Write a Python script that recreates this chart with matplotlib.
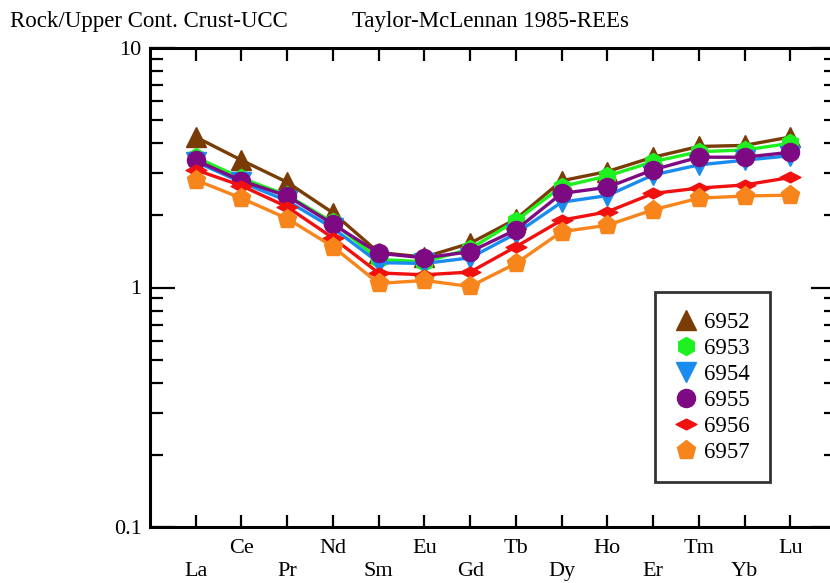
import matplotlib
matplotlib.use("Agg")
import matplotlib.pyplot as plt
from matplotlib.path import Path

# Data: sample / UCC (Taylor & McLennan 1985)
elements = ["La", "Ce", "Pr", "Nd", "Sm", "Eu", "Gd", "Tb", "Dy", "Ho", "Er", "Tm", "Yb", "Lu"]
s6952 = [4.25, 3.40, 2.75, 2.05, 1.40, 1.34, 1.53, 1.93, 2.79, 3.05, 3.50, 3.88, 3.92, 4.25]
s6953 = [3.50, 2.86, 2.43, 1.87, 1.31, 1.28, 1.45, 1.90, 2.64, 2.92, 3.35, 3.69, 3.75, 4.00]
s6954 = [3.35, 2.75, 2.30, 1.77, 1.27, 1.26, 1.33, 1.68, 2.27, 2.42, 2.95, 3.25, 3.40, 3.55]
s6955 = [3.40, 2.79, 2.41, 1.84, 1.39, 1.33, 1.41, 1.74, 2.47, 2.62, 3.10, 3.50, 3.50, 3.67]
s6956 = [3.10, 2.66, 2.17, 1.61, 1.15, 1.13, 1.16, 1.48, 1.91, 2.07, 2.47, 2.60, 2.68, 2.88]
s6957 = [2.81, 2.36, 1.94, 1.48, 1.04, 1.07, 1.01, 1.26, 1.71, 1.82, 2.11, 2.36, 2.41, 2.43]

# wide diamond for 6956
wide_diamond = Path([(-1.45, 0), (0, 0.75), (1.45, 0), (0, -0.75), (-1.45, 0)],
                    [Path.MOVETO, Path.LINETO, Path.LINETO, Path.LINETO, Path.CLOSEPOLY])

series = [
    ("6952", s6952, "#7a3c05", "^", 14),
    ("6953", s6953, "#1ff01f", "h", 13),
    ("6954", s6954, "#1a8cf0", "v", 14),
    ("6955", s6955, "#7d0a82", "o", 13),
    ("6956", s6956, "#f01010", wide_diamond, 15),
    ("6957", s6957, "#f7851c", "p", 14),
]

plt.rcParams["font.family"] = ["Liberation Serif", "DejaVu Serif"]

fig = plt.figure(figsize=(8.3, 5.83), dpi=100)
ax = fig.add_axes([150 / 830, 1 - 527 / 583, 686 / 830, (527 - 48) / 583])

x = list(range(len(elements)))
for name, vals, col, mk, ms in series:
    ax.plot(x, vals, color=col, lw=2.4, marker=mk, ms=ms, mec=col, mfc=col, label=name)

ax.set_yscale("log")
ax.set_ylim(0.1, 10)
ax.set_xlim(-1, 14)

ax.set_yticks([0.1, 1, 10])
ax.set_yticklabels(["0.1", "1", "10"])
ax.yaxis.set_minor_locator(matplotlib.ticker.LogLocator(base=10, subs=range(2, 10)))
ax.yaxis.set_minor_formatter(matplotlib.ticker.NullFormatter())

ax.set_xticks(x)
ax.set_xticklabels(elements)

ax.tick_params(axis="both", which="both", direction="in", width=1.6, labelsize=16, colors="black")
ax.tick_params(axis="x", which="major", length=9, top=True)
ax.tick_params(axis="y", which="major", length=18, right=True, pad=6)
ax.tick_params(axis="y", which="minor", length=9, right=True)

# staggered element labels: odd ones on the upper row, even ones lower
for i, t in enumerate(ax.xaxis.get_major_ticks()):
    t.set_pad(25 if i % 2 == 0 else 8.5)

for sp in ax.spines.values():
    sp.set_linewidth(2.2)

leg = ax.legend(loc="upper left", bbox_to_anchor=(505 / 686, (527 - 292) / 479),
                frameon=True, fancybox=False, edgecolor="black", fontsize=16.5,
                handlelength=1.0, handletextpad=0.3, labelspacing=0.22,
                borderpad=0.85, borderaxespad=0)
leg.get_frame().set_linewidth(2.0)
for h in leg.legend_handles:
    h.set_linestyle("none")

fig.text(10 / 830, 1 - 21 / 583, "Rock/Upper Cont. Crust-UCC", fontsize=16.5, va="center")
fig.text(352 / 830, 1 - 21 / 583, "Taylor-McLennan 1985-REEs", fontsize=16.5, va="center")

fig.savefig("out.png", dpi=100)
